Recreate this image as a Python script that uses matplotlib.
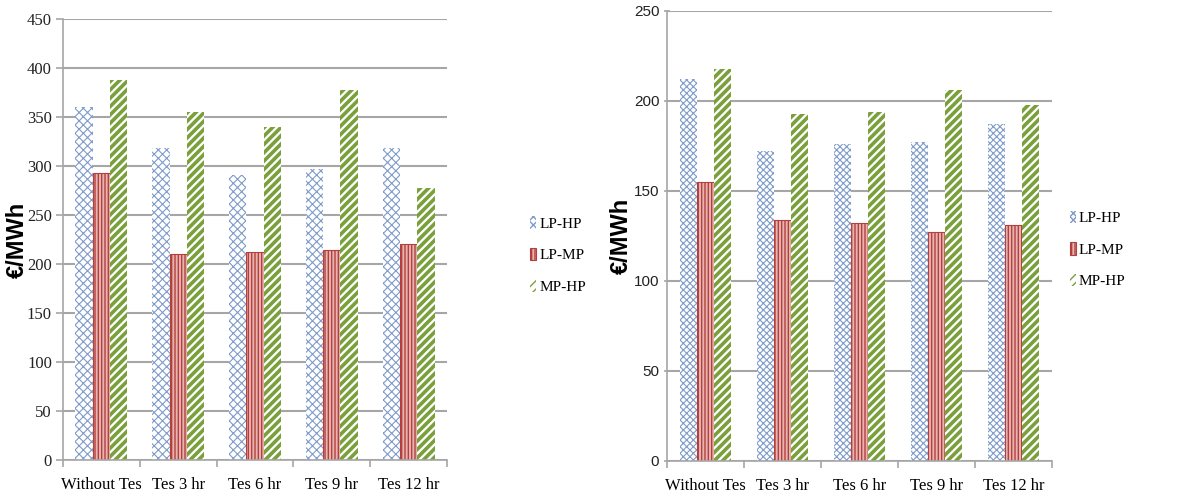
import matplotlib
matplotlib.use("Agg")
import matplotlib.pyplot as plt
import numpy as np

# cost per MWh for each storage option, two cases side by side
categories = ["Without Tes", "Tes 3 hr", "Tes 6 hr", "Tes 9 hr", "Tes 12 hr"]
series = ["LP-HP", "LP-MP", "MP-HP"]

left_lp_hp = [360, 318, 291, 297, 318]
left_lp_mp = [293, 210, 212, 214, 220]
left_mp_hp = [388, 355, 340, 378, 278]

right_lp_hp = [212, 172, 176, 177, 187]
right_lp_mp = [155, 134, 132, 127, 131]
right_mp_hp = [218, 193, 194, 206, 198]

serif = "Liberation Serif"
sans = "Liberation Sans"
grid_col = "#a6a6a6"

# fill, hatch colour, hatch, hatch width, edge width
styles = [
    ("white", "#7f9bc9", "xxxx", 0.8, 0),
    ("#e8b4b2", "#b3403d", "|||||", 1.0, 0.8),
    ("white", "#7aa03c", "////", 2.6, 0),
]


def draw_panel(ax, data, ymax, step, fine, tick_font, tick_size, tick_dir):
    x = np.arange(len(categories))
    width = 0.225
    for k, (vals, name) in enumerate(zip(data, series)):
        face, col, hatch, hlw, elw = styles[k]
        if fine and k == 0:
            hatch = "xxxxx"
        with plt.rc_context({"hatch.linewidth": hlw}):
            bars = ax.bar(x + (k - 1) * width, vals, width, color=face,
                          edgecolor=col, hatch=hatch, linewidth=elw, label=name)
        for b in bars:
            if hasattr(b, "set_hatch_linewidth"):
                b.set_hatch_linewidth(hlw)

    ax.set_xlim(-0.5, len(categories) - 0.5)
    ax.set_ylim(0, ymax)
    ax.set_yticks(np.arange(0, ymax + 1, step))
    ax.set_axisbelow(True)
    ax.grid(axis="y", color=grid_col, linewidth=1.5)
    for s in ["top", "right"]:
        ax.spines[s].set_visible(False)
    for s in ["left", "bottom"]:
        ax.spines[s].set_color(grid_col)
        ax.spines[s].set_linewidth(1.2)

    ax.set_xticks(x)
    ax.set_xticklabels(categories, fontfamily=serif, fontsize=12)
    ax.tick_params(axis="x", length=0, pad=12)
    ax.set_xticks(np.arange(-0.5, len(categories)), minor=True)
    ax.tick_params(axis="x", which="minor", length=5, color=grid_col, width=1.2)

    for lab in ax.get_yticklabels():
        lab.set_fontfamily(tick_font)
        lab.set_fontsize(tick_size)
    ax.tick_params(axis="y", length=5, color=grid_col, width=1.2,
                   direction=tick_dir, pad=3, labelcolor="#222222")

    ax.set_ylabel("€/MWh", fontfamily=sans, fontweight="bold", fontsize=17)
    ax.yaxis.set_label_coords(-0.09, 0.5)


fig = plt.figure(figsize=(11.84, 4.95), dpi=100)
ax1 = fig.add_axes([63 / 1184, 35 / 495, 384 / 1184, 441 / 495])
ax2 = fig.add_axes([667 / 1184, 34 / 495, 385 / 1184, 450 / 495])

draw_panel(ax1, [left_lp_hp, left_lp_mp, left_mp_hp], 450, 50, False, serif, 12, "out")
draw_panel(ax2, [right_lp_hp, right_lp_mp, right_mp_hp], 250, 50, True, sans, 11, "inout")

for ax, anchor in [(ax1, (1.18, 0.465)), (ax2, (1.01, 0.47))]:
    ax.legend(loc="center left", bbox_to_anchor=anchor, frameon=False,
              prop={"family": serif, "size": 11}, handlelength=0.4,
              handleheight=0.9, handletextpad=0.2, labelspacing=1.1)

fig.savefig("out.png", dpi=100)
